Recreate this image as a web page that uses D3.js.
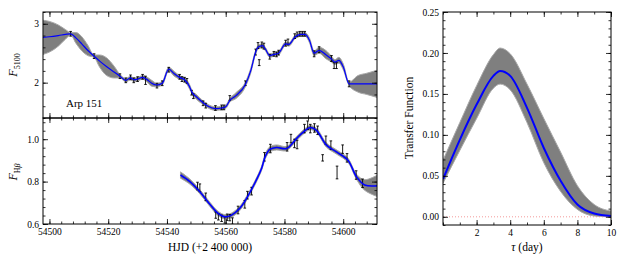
<!DOCTYPE html>
<html>
<head>
<meta charset="utf-8">
<script src="https://cdn.jsdelivr.net/npm/d3@7.9.0/dist/d3.min.js"></script>
<style>
  body { margin: 0; background: #fff; }
  text { font-family: "Liberation Serif", "DejaVu Serif", serif; fill: #000; }
</style>
</head>
<body>
<svg id="chart" width="623" height="262"></svg>
<script>
// continuum (5100) model + band half-width
const contDays  = [54497.8, 54500, 54503, 54505.5, 54507.2, 54509, 54511, 54513, 54515.2, 54517, 54519.5, 54522, 54524, 54526, 54527.6, 54528.7, 54530, 54531.7, 54533, 54534.8, 54536.5, 54538.4, 54540.6, 54542.5, 54544.3, 54546, 54547.5, 54548.6, 54550, 54552.3, 54554, 54556.5, 54558.6, 54560, 54561.4, 54563.5, 54566.7, 54568.5, 54570.2, 54571, 54572.5, 54573.5, 54575, 54576.4, 54578, 54580.4, 54581.5, 54583.5, 54585.5, 54587, 54588.5, 54590.1, 54591.8, 54594, 54596, 54597.2, 54598.5, 54600, 54602, 54605, 54608, 54611.5];
const contModel = [2.77, 2.78, 2.80, 2.82, 2.83, 2.76, 2.66, 2.55, 2.45, 2.37, 2.27, 2.18, 2.11, 2.04, 2.08, 2.05, 2.06, 2.09, 2.06, 1.99, 1.96, 1.99, 2.23, 2.15, 2.09, 2.05, 1.95, 1.83, 1.76, 1.66, 1.60, 1.56, 1.57, 1.59, 1.70, 1.78, 1.97, 2.20, 2.52, 2.60, 2.63, 2.57, 2.46, 2.48, 2.50, 2.66, 2.65, 2.77, 2.82, 2.82, 2.72, 2.50, 2.55, 2.48, 2.40, 2.35, 2.38, 2.27, 1.98, 1.98, 1.98, 1.98];
const contSigma = [0.29, 0.26, 0.18, 0.08, 0.02, 0.09, 0.12, 0.09, 0.02, 0.10, 0.15, 0.10, 0.03, 0.03, 0.03, 0.03, 0.03, 0.03, 0.04, 0.05, 0.03, 0.03, 0.03, 0.04, 0.03, 0.03, 0.04, 0.03, 0.04, 0.03, 0.03, 0.03, 0.03, 0.03, 0.03, 0.05, 0.04, 0.04, 0.03, 0.03, 0.03, 0.03, 0.03, 0.03, 0.03, 0.03, 0.03, 0.03, 0.03, 0.03, 0.04, 0.04, 0.05, 0.07, 0.05, 0.04, 0.05, 0.05, 0.03, 0.14, 0.18, 0.23];

// continuum observations
const contObsDays = [54507.2, 54515.2, 54524.0, 54526.0, 54527.6, 54528.7, 54530.0, 54531.7, 54532.7, 54536.6, 54538.4, 54540.6, 54544.3, 54545.1, 54546.0, 54546.8, 54548.4, 54549.0, 54552.3, 54553.2, 54556.5, 54558.6, 54559.4, 54561.4, 54566.7, 54570.2, 54571.0, 54571.4, 54572.3, 54573.0, 54575.0, 54576.4, 54577.3, 54578.0, 54580.4, 54581.2, 54583.5, 54584.3, 54585.2, 54586.1, 54586.9, 54590.1, 54591.8, 54596.0, 54596.9, 54597.7, 54602.0];
const contObsFlux = [2.83, 2.45, 2.11, 2.04, 2.09, 2.04, 2.06, 2.10, 2.04, 1.95, 1.99, 2.22, 2.10, 2.06, 2.05, 2.03, 1.83, 1.77, 1.65, 1.61, 1.57, 1.58, 1.58, 1.74, 1.99, 2.52, 2.63, 2.34, 2.64, 2.62, 2.44, 2.49, 2.48, 2.51, 2.67, 2.69, 2.79, 2.82, 2.83, 2.83, 2.83, 2.49, 2.56, 2.41, 2.29, 2.29, 1.98];
const contObsErr  = [0.04, 0.04, 0.04, 0.04, 0.04, 0.04, 0.04, 0.04, 0.07, 0.04, 0.04, 0.04, 0.04, 0.04, 0.04, 0.04, 0.04, 0.04, 0.04, 0.04, 0.04, 0.04, 0.04, 0.04, 0.04, 0.05, 0.05, 0.05, 0.05, 0.05, 0.04, 0.04, 0.04, 0.04, 0.05, 0.05, 0.04, 0.04, 0.04, 0.04, 0.04, 0.05, 0.05, 0.05, 0.05, 0.05, 0.05];

// H-beta model + band half-width
const hbDays  = [54544.6, 54547.8, 54551.2, 54554.6, 54557.4, 54559.7, 54562, 54564.8, 54567.1, 54570.7, 54572.2, 54573.5, 54575, 54577.3, 54580.7, 54584.1, 54586.5, 54588.8, 54590.9, 54594.3, 54597.7, 54601.6, 54604.5, 54607.3, 54611.5];
const hbModel = [0.831, 0.800, 0.752, 0.693, 0.650, 0.634, 0.642, 0.674, 0.721, 0.815, 0.862, 0.920, 0.952, 0.961, 0.956, 1.003, 1.035, 1.055, 1.042, 0.972, 0.940, 0.901, 0.823, 0.784, 0.780];
const hbSigma = [0.015, 0.012, 0.010, 0.010, 0.010, 0.010, 0.010, 0.010, 0.010, 0.010, 0.010, 0.012, 0.012, 0.012, 0.010, 0.010, 0.010, 0.010, 0.010, 0.010, 0.010, 0.010, 0.012, 0.025, 0.050];

// H-beta observations
const hbObsDays = [54550.4, 54551.2, 54553.2, 54556.6, 54557.5, 54558.6, 54559.7, 54560.5, 54561.4, 54562.3, 54564.2, 54566.5, 54567.4, 54568.8, 54573.2, 54575.2, 54580.9, 54582.2, 54583.4, 54584.3, 54586.8, 54587.9, 54588.8, 54590.2, 54591.3, 54593.0, 54594.1, 54595.8, 54597.9, 54599.8, 54601.3, 54604.4, 54606.6];
const hbObsFlux = [0.779, 0.771, 0.728, 0.642, 0.634, 0.627, 0.619, 0.632, 0.630, 0.614, 0.666, 0.693, 0.736, 0.755, 0.917, 0.956, 0.964, 1.003, 0.980, 0.975, 1.050, 1.066, 1.050, 1.053, 1.042, 0.912, 0.995, 0.972, 0.843, 0.953, 0.912, 0.831, 0.792];
const hbObsErr  = [0.018, 0.018, 0.018, 0.015, 0.015, 0.015, 0.015, 0.015, 0.015, 0.015, 0.018, 0.018, 0.018, 0.018, 0.02, 0.02, 0.02, 0.02, 0.02, 0.02, 0.02, 0.02, 0.02, 0.02, 0.02, 0.015, 0.02, 0.02, 0.03, 0.02, 0.02, 0.02, 0.02];

// transfer function
const tauDays = [0, 1, 2, 3, 3.4, 4, 5, 6, 7, 8, 9, 10];
const tfMean  = [0.046, 0.094, 0.137, 0.172, 0.178, 0.172, 0.133, 0.084, 0.044, 0.015, 0.004, 0.001];
const tfUpper = [0.069, 0.115, 0.160, 0.198, 0.206, 0.199, 0.162, 0.120, 0.079, 0.038, 0.015, 0.007];
const tfLower = [0.041, 0.081, 0.120, 0.157, 0.162, 0.155, 0.115, 0.066, 0.031, 0.009, 0.001, 0.000];

const svg = d3.select("#chart");
const L = {x0: 43, x1: 377, top: 12, mid: 118, bot: 224};
const R = {x0: 443, x1: 611, top: 12, bot: 225};

const x = d3.scaleLinear().domain([54497.8, 54611.5]).range([L.x0, L.x1]);
const yC = d3.scaleLinear().domain([1.4, 3.2]).range([L.mid, L.top]);
const yH = d3.scaleLinear().domain([0.6, 1.1]).range([L.bot, L.mid]);
const xT = d3.scaleLinear().domain([0, 10]).range([R.x0, R.x1]);
const yT = d3.scaleLinear().domain([-0.01, 0.25]).range([R.bot, R.top]);

function clip(id, x0, y0, x1, y1) {
  svg.append("clipPath").attr("id", id).append("rect")
    .attr("x", x0).attr("y", y0).attr("width", x1 - x0).attr("height", y1 - y0);
}
clip("cTop", L.x0, L.top, L.x1, L.mid);
clip("cBot", L.x0, L.mid, L.x1, L.bot);
clip("cRight", R.x0, R.top, R.x1, R.bot);

function band(g, xs, xsc, ysc, lo, hi, curve) {
  const idx = d3.range(xs.length);
  g.append("path")
    .attr("d", d3.area().curve(curve).x(i => xsc(xs[i])).y0(i => ysc(lo[i])).y1(i => ysc(hi[i]))(idx))
    .attr("fill", "#7f7f7f").attr("stroke", "#a8a8a8").attr("stroke-width", 1);
}
function line(g, xs, xsc, ysc, vals, curve, w) {
  g.append("path")
    .attr("d", d3.line().curve(curve).x(i => xsc(xs[i])).y(i => ysc(vals[i]))(d3.range(xs.length)))
    .attr("fill", "none").attr("stroke", "#0000ff").attr("stroke-width", w);
}
function errbars(g, xs, ys, es, xsc, ysc) {
  const gg = g.append("g").attr("stroke", "#000").attr("stroke-width", 0.9);
  xs.forEach((d, i) => {
    const px = xsc(d), a = ysc(ys[i] - es[i]), b = ysc(ys[i] + es[i]);
    gg.append("line").attr("x1", px).attr("x2", px).attr("y1", a).attr("y2", b);
    gg.append("line").attr("x1", px - 1.3).attr("x2", px + 1.3).attr("y1", a).attr("y2", a);
    gg.append("line").attr("x1", px - 1.3).attr("x2", px + 1.3).attr("y1", b).attr("y2", b);
  });
}

// top panel
const gTop = svg.append("g").attr("clip-path", "url(#cTop)");
band(gTop, contDays, x, yC, contModel.map((v, i) => v - contSigma[i]), contModel.map((v, i) => v + contSigma[i]), d3.curveMonotoneX);
errbars(gTop, contObsDays, contObsFlux, contObsErr, x, yC);
line(gTop, contDays, x, yC, contModel, d3.curveMonotoneX, 1.2);

// bottom panel
const gBot = svg.append("g").attr("clip-path", "url(#cBot)");
band(gBot, hbDays, x, yH, hbModel.map((v, i) => v - hbSigma[i]), hbModel.map((v, i) => v + hbSigma[i]), d3.curveCatmullRom);
errbars(gBot, hbObsDays, hbObsFlux, hbObsErr, x, yH);
line(gBot, hbDays, x, yH, hbModel, d3.curveCatmullRom, 1.6);

// right panel
const gR = svg.append("g").attr("clip-path", "url(#cRight)");
band(gR, tauDays, xT, yT, tfLower, tfUpper, d3.curveMonotoneX);
gR.append("line").attr("x1", R.x0).attr("x2", R.x1).attr("y1", yT(0)).attr("y2", yT(0))
  .attr("stroke", "#f08080").attr("stroke-width", 0.8).attr("stroke-dasharray", "1,2");
line(gR, tauDays, xT, yT, tfMean, d3.curveMonotoneX, 2);

// axes: inward ticks on all four sides
function frame(xs, ys, x0, x1, y0, y1, o) {
  const g = svg.append("g");
  const mk = (axis, tr, vals, size, fmt) => {
    const a = g.append("g").attr("transform", tr)
      .call(axis.tickValues(vals).tickSize(size).tickPadding(4).tickFormat(fmt));
    a.select(".domain").remove();
    a.selectAll("line").attr("stroke", "#000").attr("stroke-width", 0.8);
    a.selectAll("text").attr("font-size", 9.5).attr("font-family", "Liberation Serif");
    return a;
  };
  const none = () => "";
  mk(d3.axisBottom(xs), `translate(0,${y1})`, o.xMinor, -2.5, none);
  mk(d3.axisTop(xs), `translate(0,${y0})`, o.xMinor, -2.5, none);
  mk(d3.axisBottom(xs), `translate(0,${y1})`, o.xMajor, -5, o.xFmt || none);
  mk(d3.axisTop(xs), `translate(0,${y0})`, o.xMajor, -5, none);
  mk(d3.axisLeft(ys), `translate(${x0},0)`, o.yMinor, -2.5, none);
  mk(d3.axisRight(ys), `translate(${x1},0)`, o.yMinor, -2.5, none);
  mk(d3.axisLeft(ys), `translate(${x0},0)`, o.yMajor, -5, o.yFmt);
  mk(d3.axisRight(ys), `translate(${x1},0)`, o.yMajor, -5, none);
  g.append("rect").attr("x", x0).attr("y", y0).attr("width", x1 - x0).attr("height", y1 - y0)
    .attr("fill", "none").attr("stroke", "#000").attr("stroke-width", 1);
}
const xMinorL = d3.range(54500, 54612, 4);
const xMajorL = [54500, 54520, 54540, 54560, 54580, 54600];
frame(x, yC, L.x0, L.x1, L.top, L.mid, {
  xMinor: xMinorL, xMajor: xMajorL,
  yMinor: d3.range(1.4, 3.21, 0.2), yMajor: [2, 3], yFmt: d3.format("d")
});
frame(x, yH, L.x0, L.x1, L.mid, L.bot, {
  xMinor: xMinorL, xMajor: xMajorL, xFmt: d3.format("d"),
  yMinor: d3.range(0.6, 1.101, 0.04), yMajor: [0.6, 0.8, 1.0], yFmt: d3.format(".1f")
});
frame(xT, yT, R.x0, R.x1, R.top, R.bot, {
  xMinor: d3.range(0, 11, 1), xMajor: [2, 4, 6, 8, 10], xFmt: d3.format("d"),
  yMinor: d3.range(-0.01, 0.251, 0.01), yMajor: [0, 0.05, 0.1, 0.15, 0.2, 0.25], yFmt: d3.format(".2f")
});

// labels
svg.append("text").attr("x", 66).attr("y", 107).attr("font-size", 11).text("Arp 151");

const lab1 = svg.append("text").attr("transform", "translate(17,65) rotate(-90)")
  .attr("text-anchor", "middle").attr("font-size", 12);
lab1.append("tspan").attr("font-style", "italic").text("F");
lab1.append("tspan").attr("font-size", 8).attr("dy", 3).text("5100");

const lab2 = svg.append("text").attr("transform", "translate(17,172) rotate(-90)")
  .attr("text-anchor", "middle").attr("font-size", 12);
lab2.append("tspan").attr("font-style", "italic").text("F");
lab2.append("tspan").attr("font-size", 8).attr("dy", 3).text("H");
lab2.append("tspan").attr("font-size", 8).attr("font-style", "italic").text("β");

svg.append("text").attr("x", (L.x0 + L.x1) / 2).attr("y", 251).attr("text-anchor", "middle")
  .attr("font-size", 11.5).text("HJD (+2 400 000)");

const lab3 = svg.append("text").attr("x", (R.x0 + R.x1) / 2).attr("y", 251).attr("text-anchor", "middle")
  .attr("font-size", 11.5);
lab3.append("tspan").attr("font-style", "italic").text("τ");
lab3.append("tspan").text(" (day)");

svg.append("text").attr("transform", "translate(413,118) rotate(-90)").attr("text-anchor", "middle")
  .attr("font-size", 11.5).text("Transfer Function");
</script>
</body>
</html>
